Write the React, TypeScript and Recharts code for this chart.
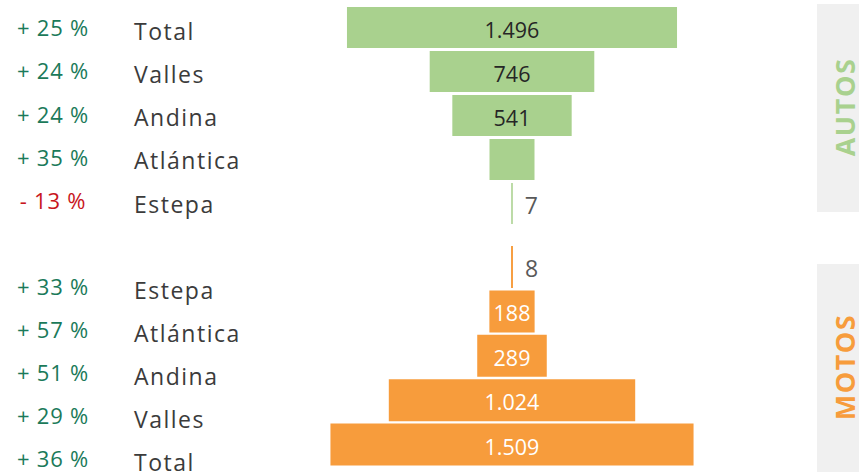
import React from 'react';
import { BarChart, Bar, XAxis, YAxis, LabelList } from 'recharts';

const autosCategorias = ['Total', 'Valles', 'Andina', 'Atlántica', 'Estepa'];
const autosValores = [1496, 746, 541, 204, 7];
const autosVariacion = [25, 24, 24, 35, -13];
const autosConEtiqueta = [true, true, true, false, true];

const motosCategorias = ['Estepa', 'Atlántica', 'Andina', 'Valles', 'Total'];
const motosValores = [8, 188, 289, 1024, 1509];
const motosVariacion = [33, 57, 51, 29, 36];
const motosConEtiqueta = [true, true, true, true, true];

const VERDE = '#a9d18e';
const NARANJA = '#f79c3c';
const FUENTE = '"Open Sans", sans-serif';

const formatoMiles = (v: number) => String(v).replace(/\B(?=(\d{3})+(?!\d))/g, '.');
const formatoVariacion = (v: number) => `${v < 0 ? '-' : '+'} ${Math.abs(v)} %`;

function armarDatos(cats: string[], vals: number[], etiquetas: boolean[]) {
  return cats.map((c, i) => ({ categoria: c, valor: vals[i], mostrar: etiquetas[i] }));
}

const autosDatos = armarDatos(autosCategorias, autosValores, autosConEtiqueta);
const motosDatos = armarDatos(motosCategorias, motosValores, motosConEtiqueta);

// barra centrada: va de -v/2 a +v/2
const rango = (d: { valor: number }) => [-d.valor / 2, d.valor / 2];

function etiquetaBarra(datos: { mostrar: boolean }[], colorInterno: string) {
  return (props: any) => {
    const vb = props.viewBox && props.viewBox.width !== undefined ? props.viewBox : props;
    const { x, y, width, height } = vb;
    const { value, index } = props;
    if (index == null || !datos[index] || !datos[index].mostrar) return null;
    const cy = y + height / 2;
    if (width < 20) {
      return (
        <text x={x + width + 12} y={cy + 1} fill="#595959" fontSize={23} fontFamily={FUENTE} dominantBaseline="central">
          {formatoMiles(value)}
        </text>
      );
    }
    return (
      <text x={x + width / 2} y={cy + 1.5} fill={colorInterno} fontSize={21.5} fontFamily={FUENTE} textAnchor="middle" dominantBaseline="central">
        {formatoMiles(value)}
      </text>
    );
  };
}

function Embudo({ datos, color, colorTexto, top, height, izq, der, barra }: any) {
  return (
    <div style={{ position: 'absolute', left: 0, top }}>
      <BarChart width={859} height={height} data={datos} layout="vertical" margin={{ top: 5, bottom: 5, left: izq, right: der }}>
        <XAxis type="number" domain={[-800, 800]} hide allowDataOverflow />
        <YAxis type="category" dataKey="categoria" hide />
        <Bar dataKey={rango} fill={color} barSize={barra} isAnimationActive={false}>
          <LabelList dataKey="valor" content={etiquetaBarra(datos, colorTexto)} />
        </Bar>
      </BarChart>
    </div>
  );
}

function Textos({ cats, vars, y0, paso }: { cats: string[]; vars: number[]; y0: number; paso: number }) {
  return (
    <>
      {cats.map((c, i) => (
        <g key={c + i}>
          <text x={53} y={y0 + paso * i} textAnchor="middle" dominantBaseline="central" fontSize={22} fontFamily={FUENTE}
            fill={vars[i] < 0 ? '#c8161d' : '#1b7a5a'} letterSpacing={0.8}>
            {formatoVariacion(vars[i])}
          </text>
          <text x={134} y={y0 + 3.5 + paso * i} dominantBaseline="central" fontSize={23} fontFamily={FUENTE} fill="#3b3b3b" letterSpacing={1.5}>
            {c}
          </text>
        </g>
      ))}
    </>
  );
}

export default function App() {
  return (
    <div style={{ position: 'absolute', left: 0, top: 0, width: 859, height: 472, background: '#fff', overflow: 'hidden' }}>
      <svg width={859} height={472} style={{ position: 'absolute', left: 0, top: 0 }}>
        <Textos cats={autosCategorias} vars={autosVariacion} y0={27} paso={43.3} />
        <Textos cats={motosCategorias} vars={motosVariacion} y0={286} paso={43} />
        <rect x={817} y={4} width={42} height={208} fill="#f0f0f0" />
        <rect x={817} y={264} width={42} height={208} fill="#f0f0f0" />
        <text x={844} y={107} transform="rotate(-90 844 107)" textAnchor="middle" dominantBaseline="central"
          fontSize={27} fontWeight="bold" fontFamily={FUENTE} fill={VERDE} letterSpacing={1.5}>
          AUTOS
        </text>
        <text x={844} y={367} transform="rotate(-90 844 367)" textAnchor="middle" dominantBaseline="central"
          fontSize={27} fontWeight="bold" fontFamily={FUENTE} fill={NARANJA} letterSpacing={1.5}>
          MOTOS
        </text>
      </svg>
      <Embudo datos={autosDatos} color={VERDE} colorTexto="#262626" top={0} height={230} izq={335.5} der={170.5} barra={41} />
      <Embudo datos={motosDatos} color={NARANJA} colorTexto="#ffffff" top={240} height={232} izq={319.5} der={154.5} barra={42} />
    </div>
  );
}
